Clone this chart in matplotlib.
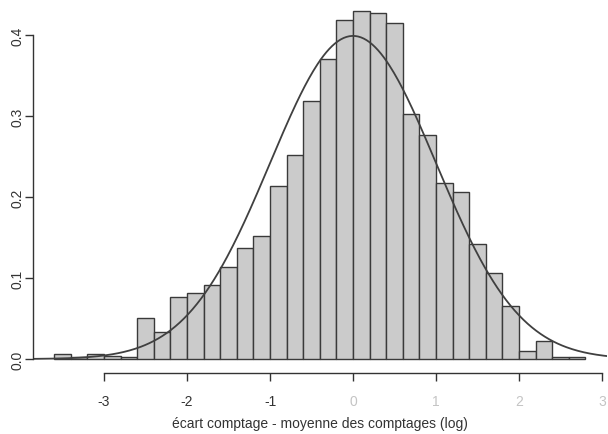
import numpy as np
import matplotlib
matplotlib.use('Agg')
from matplotlib import pyplot as plt

# histogram bins (left edges, width 0.2) and densities
bin_left = [-3.6, -3.4, -3.2, -3.0, -2.8, -2.6, -2.4, -2.2, -2.0, -1.8, -1.6,
            -1.4, -1.2, -1.0, -0.8, -0.6, -0.4, -0.2, 0.0, 0.2, 0.4, 0.6,
            0.8, 1.0, 1.2, 1.4, 1.6, 1.8, 2.0, 2.2, 2.4, 2.6]
bin_width = 0.2
density = [0.0066, 0.002, 0.0066, 0.004, 0.003, 0.051, 0.033, 0.077, 0.081,
           0.092, 0.114, 0.137, 0.152, 0.214, 0.252, 0.318, 0.371, 0.419,
           0.430, 0.427, 0.415, 0.303, 0.277, 0.217, 0.206, 0.142, 0.106,
           0.065, 0.010, 0.022, 0.003, 0.003]

x_ticks = [-3, -2, -1, 0, 1, 2, 3]
y_ticks = [0.0, 0.1, 0.2, 0.3, 0.4]
x_label = 'écart comptage - moyenne des comptages (log)'

plt.rcParams['font.family'] = ['Liberation Sans', 'DejaVu Sans']

fig = plt.figure(figsize=(6.08, 4.35), dpi=100)
ax = fig.add_axes([33 / 608, 61 / 435, 573.7 / 608, 374 / 435])

ax.bar(bin_left, density, width=bin_width, align='edge',
       color='#cbcbcb', edgecolor='#3a3a3a', linewidth=1.0)

# standard normal density over the full plot range
xs = np.linspace(-3.856, 3.056, 400)
ax.plot(xs, np.exp(-xs ** 2 / 2) / np.sqrt(2 * np.pi), color='#404040', linewidth=1.3)

ax.set_xlim(-3.856, 3.056)
ax.set_ylim(-0.0172, 0.4445)

for s in ['top', 'right']:
    ax.spines[s].set_visible(False)
ax.spines['left'].set_bounds(0, 0.4)
ax.spines['bottom'].set_bounds(-3, 3)
for s in ['left', 'bottom']:
    ax.spines[s].set_color('#333333')
    ax.spines[s].set_linewidth(1.0)

ax.set_xticks(x_ticks)
ax.set_xticklabels([str(t) for t in x_ticks])
ax.set_yticks(y_ticks)
ax.set_yticklabels([f'{t:.1f}' for t in y_ticks], rotation=90, va='center')
ax.tick_params(axis='both', length=6, width=1.0, color='#333333',
               labelsize=10, labelcolor='#333333')
ax.tick_params(axis='x', pad=9)
ax.tick_params(axis='y', pad=0)
# the positive tick labels are washed out in the scan
for lab in ax.get_xticklabels()[3:]:
    lab.set_color('#c4c4c4')

ax.set_xlabel(x_label, fontsize=10, color='#333333', labelpad=6)

fig.savefig('out.png', dpi=100)
